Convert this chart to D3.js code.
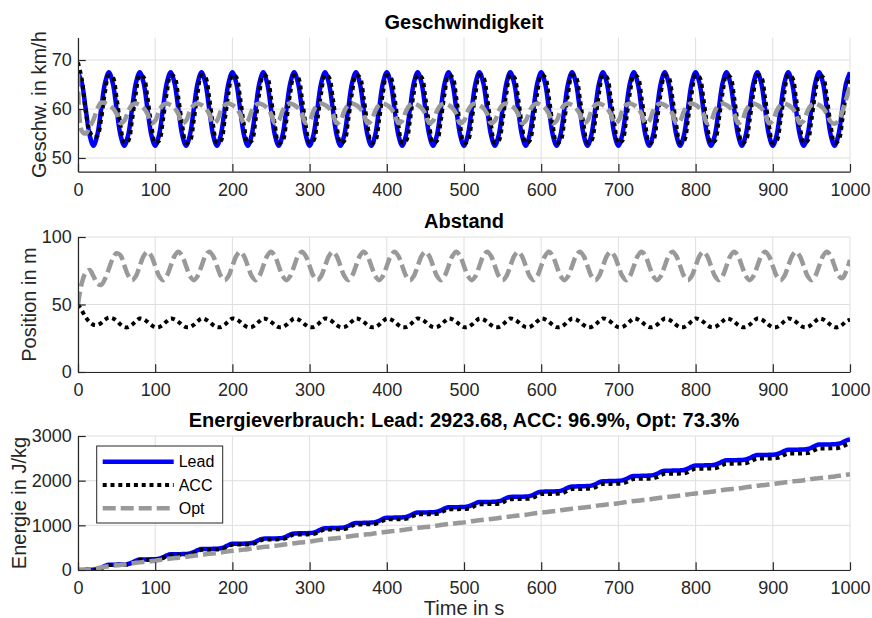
<!DOCTYPE html>
<html>
<head>
<meta charset="utf-8">
<script src="https://cdn.jsdelivr.net/npm/d3@7/dist/d3.min.js"></script>
<style>
  body { margin: 0; background: #fff; }
  svg { font-family: Arial, "Liberation Sans", sans-serif; }
</style>
</head>
<body>
<svg id="chart" width="872" height="618"></svg>
<script>
// Simulation output: lead vehicle, ACC follower and optimised follower
// Sampled every 5 s from 0 to 1000 s (one row = one 40 s period)
const time = d3.range(0, 1001, 5)

// Speed in km/h
const speedLead = [
  67.5, 65.3, 60.0, 54.7, 52.5, 54.7, 60.0, 65.3,
  67.5, 65.3, 60.0, 54.7, 52.5, 54.7, 60.0, 65.3,
  67.5, 65.3, 60.0, 54.7, 52.5, 54.7, 60.0, 65.3,
  67.5, 65.3, 60.0, 54.7, 52.5, 54.7, 60.0, 65.3,
  67.5, 65.3, 60.0, 54.7, 52.5, 54.7, 60.0, 65.3,
  67.5, 65.3, 60.0, 54.7, 52.5, 54.7, 60.0, 65.3,
  67.5, 65.3, 60.0, 54.7, 52.5, 54.7, 60.0, 65.3,
  67.5, 65.3, 60.0, 54.7, 52.5, 54.7, 60.0, 65.3,
  67.5, 65.3, 60.0, 54.7, 52.5, 54.7, 60.0, 65.3,
  67.5, 65.3, 60.0, 54.7, 52.5, 54.7, 60.0, 65.3,
  67.5, 65.3, 60.0, 54.7, 52.5, 54.7, 60.0, 65.3,
  67.5, 65.3, 60.0, 54.7, 52.5, 54.7, 60.0, 65.3,
  67.5, 65.3, 60.0, 54.7, 52.5, 54.7, 60.0, 65.3,
  67.5, 65.3, 60.0, 54.7, 52.5, 54.7, 60.0, 65.3,
  67.5, 65.3, 60.0, 54.7, 52.5, 54.7, 60.0, 65.3,
  67.5, 65.3, 60.0, 54.7, 52.5, 54.7, 60.0, 65.3,
  67.5, 65.3, 60.0, 54.7, 52.5, 54.7, 60.0, 65.3,
  67.5, 65.3, 60.0, 54.7, 52.5, 54.7, 60.0, 65.3,
  67.5, 65.3, 60.0, 54.7, 52.5, 54.7, 60.0, 65.3,
  67.5, 65.3, 60.0, 54.7, 52.5, 54.7, 60.0, 65.3,
  67.5, 65.3, 60.0, 54.7, 52.5, 54.7, 60.0, 65.3,
  67.5, 65.3, 60.0, 54.7, 52.5, 54.7, 60.0, 65.3,
  67.5, 65.3, 60.0, 54.7, 52.5, 54.7, 60.0, 65.3,
  67.5, 65.3, 60.0, 54.7, 52.5, 54.7, 60.0, 65.3,
  67.5, 65.3, 60.0, 54.7, 52.5, 54.7, 60.0, 65.3,
  67.5
]
const speedAcc = [
  69.5, 66.0, 59.5, 55.5, 54.3, 54.5, 58.0, 63.5,
  66.9, 66.5, 62.3, 56.7, 53.1, 53.5, 57.7, 63.3,
  66.9, 66.5, 62.3, 56.7, 53.1, 53.5, 57.7, 63.3,
  66.9, 66.5, 62.3, 56.7, 53.1, 53.5, 57.7, 63.3,
  66.9, 66.5, 62.3, 56.7, 53.1, 53.5, 57.7, 63.3,
  66.9, 66.5, 62.3, 56.7, 53.1, 53.5, 57.7, 63.3,
  66.9, 66.5, 62.3, 56.7, 53.1, 53.5, 57.7, 63.3,
  66.9, 66.5, 62.3, 56.7, 53.1, 53.5, 57.7, 63.3,
  66.9, 66.5, 62.3, 56.7, 53.1, 53.5, 57.7, 63.3,
  66.9, 66.5, 62.3, 56.7, 53.1, 53.5, 57.7, 63.3,
  66.9, 66.5, 62.3, 56.7, 53.1, 53.5, 57.7, 63.3,
  66.9, 66.5, 62.3, 56.7, 53.1, 53.5, 57.7, 63.3,
  66.9, 66.5, 62.3, 56.7, 53.1, 53.5, 57.7, 63.3,
  66.9, 66.5, 62.3, 56.7, 53.1, 53.5, 57.7, 63.3,
  66.9, 66.5, 62.3, 56.7, 53.1, 53.5, 57.7, 63.3,
  66.9, 66.5, 62.3, 56.7, 53.1, 53.5, 57.7, 63.3,
  66.9, 66.5, 62.3, 56.7, 53.1, 53.5, 57.7, 63.3,
  66.9, 66.5, 62.3, 56.7, 53.1, 53.5, 57.7, 63.3,
  66.9, 66.5, 62.3, 56.7, 53.1, 53.5, 57.7, 63.3,
  66.9, 66.5, 62.3, 56.7, 53.1, 53.5, 57.7, 63.3,
  66.9, 66.5, 62.3, 56.7, 53.1, 53.5, 57.7, 63.3,
  66.9, 66.5, 62.3, 56.7, 53.1, 53.5, 57.7, 63.3,
  66.9, 66.5, 62.3, 56.7, 53.1, 53.5, 57.7, 63.3,
  66.9, 66.5, 62.3, 56.7, 53.1, 53.5, 57.7, 63.3,
  66.9, 66.5, 62.3, 56.7, 53.1, 53.5, 57.7, 63.3,
  66.9
]
const speedOpt = [
  67.2, 55.5, 55.0, 56.3, 57.8, 60.0, 61.3, 61.2,
  60.8, 60.2, 59.0, 57.1, 57.6, 59.6, 60.8, 61.1,
  60.8, 60.2, 59.0, 57.1, 57.6, 59.6, 60.8, 61.1,
  60.8, 60.2, 59.0, 57.1, 57.6, 59.6, 60.8, 61.1,
  60.8, 60.2, 59.0, 57.1, 57.6, 59.6, 60.8, 61.1,
  60.8, 60.2, 59.0, 57.1, 57.6, 59.6, 60.8, 61.1,
  60.8, 60.2, 59.0, 57.1, 57.6, 59.6, 60.8, 61.1,
  60.8, 60.2, 59.0, 57.1, 57.6, 59.6, 60.8, 61.1,
  60.8, 60.2, 59.0, 57.1, 57.6, 59.6, 60.8, 61.1,
  60.8, 60.2, 59.0, 57.1, 57.6, 59.6, 60.8, 61.1,
  60.8, 60.2, 59.0, 57.1, 57.6, 59.6, 60.8, 61.1,
  60.8, 60.2, 59.0, 57.1, 57.6, 59.6, 60.8, 61.1,
  60.8, 60.2, 59.0, 57.1, 57.6, 59.6, 60.8, 61.1,
  60.8, 60.2, 59.0, 57.1, 57.6, 59.6, 60.8, 61.1,
  60.8, 60.2, 59.0, 57.1, 57.6, 59.6, 60.8, 61.1,
  60.8, 60.2, 59.0, 57.1, 57.6, 59.6, 60.8, 61.1,
  60.8, 60.2, 59.0, 57.1, 57.6, 59.6, 60.8, 61.1,
  60.8, 60.2, 59.0, 57.1, 57.6, 59.6, 60.8, 61.1,
  60.8, 60.2, 59.0, 57.1, 57.6, 59.6, 60.8, 61.1,
  60.8, 60.2, 59.0, 57.1, 57.6, 59.6, 60.8, 61.1,
  60.8, 60.2, 59.0, 57.1, 57.6, 59.6, 60.8, 61.1,
  60.8, 60.2, 59.0, 57.1, 57.6, 59.6, 60.8, 61.1,
  60.8, 60.2, 59.0, 57.1, 57.6, 59.6, 60.8, 61.1,
  60.8, 60.2, 59.0, 57.1, 57.6, 59.6, 60.8, 61.1,
  60.8, 60.2, 59.0, 57.4, 57.0, 57.6, 59.5, 62.0,
  64.8
]

// Gap to the lead vehicle in m
const distAcc = [
  50.0, 45.5, 40.5, 37.0, 35.0, 34.8, 36.3, 38.8,
  40.3, 39.8, 38.0, 35.2, 33.3, 33.2, 35.0, 37.6,
  39.6, 39.0, 37.2, 34.8, 33.2, 33.3, 35.0, 37.6,
  39.6, 39.0, 37.2, 34.8, 33.2, 33.3, 35.0, 37.6,
  39.6, 39.0, 37.2, 34.8, 33.2, 33.3, 35.0, 37.6,
  39.6, 39.0, 37.2, 34.8, 33.2, 33.3, 35.0, 37.6,
  39.6, 39.0, 37.2, 34.8, 33.2, 33.3, 35.0, 37.6,
  39.6, 39.0, 37.2, 34.8, 33.2, 33.3, 35.0, 37.6,
  39.6, 39.0, 37.2, 34.8, 33.2, 33.3, 35.0, 37.6,
  39.6, 39.0, 37.2, 34.8, 33.2, 33.3, 35.0, 37.6,
  39.6, 39.0, 37.2, 34.8, 33.2, 33.3, 35.0, 37.6,
  39.6, 39.0, 37.2, 34.8, 33.2, 33.3, 35.0, 37.6,
  39.6, 39.0, 37.2, 34.8, 33.2, 33.3, 35.0, 37.6,
  39.6, 39.0, 37.2, 34.8, 33.2, 33.3, 35.0, 37.6,
  39.6, 39.0, 37.2, 34.8, 33.2, 33.3, 35.0, 37.6,
  39.6, 39.0, 37.2, 34.8, 33.2, 33.3, 35.0, 37.6,
  39.6, 39.0, 37.2, 34.8, 33.2, 33.3, 35.0, 37.6,
  39.6, 39.0, 37.2, 34.8, 33.2, 33.3, 35.0, 37.6,
  39.6, 39.0, 37.2, 34.8, 33.2, 33.3, 35.0, 37.6,
  39.6, 39.0, 37.2, 34.8, 33.2, 33.3, 35.0, 37.6,
  39.6, 39.0, 37.2, 34.8, 33.2, 33.3, 35.0, 37.6,
  39.6, 39.0, 37.2, 34.8, 33.2, 33.3, 35.0, 37.6,
  39.6, 39.0, 37.2, 34.8, 33.2, 33.3, 35.0, 37.6,
  39.6, 39.0, 37.2, 34.8, 33.2, 33.3, 35.0, 37.6,
  39.6, 39.0, 37.2, 34.8, 33.2, 33.3, 35.0, 37.6,
  38.8
]
const distOpt = [
  50.0, 66.0, 73.5, 75.5, 71.0, 65.5, 64.5, 69.0,
  76.5, 84.0, 88.0, 86.5, 79.0, 71.5, 68.0, 71.0,
  78.5, 85.9, 89.0, 85.9, 78.5, 71.1, 68.0, 71.1,
  78.5, 85.9, 89.0, 85.9, 78.5, 71.1, 68.0, 71.1,
  78.5, 85.9, 89.0, 85.9, 78.5, 71.1, 68.0, 71.1,
  78.5, 85.9, 89.0, 85.9, 78.5, 71.1, 68.0, 71.1,
  78.5, 85.9, 89.0, 85.9, 78.5, 71.1, 68.0, 71.1,
  78.5, 85.9, 89.0, 85.9, 78.5, 71.1, 68.0, 71.1,
  78.5, 85.9, 89.0, 85.9, 78.5, 71.1, 68.0, 71.1,
  78.5, 85.9, 89.0, 85.9, 78.5, 71.1, 68.0, 71.1,
  78.5, 85.9, 89.0, 85.9, 78.5, 71.1, 68.0, 71.1,
  78.5, 85.9, 89.0, 85.9, 78.5, 71.1, 68.0, 71.1,
  78.5, 85.9, 89.0, 85.9, 78.5, 71.1, 68.0, 71.1,
  78.5, 85.9, 89.0, 85.9, 78.5, 71.1, 68.0, 71.1,
  78.5, 85.9, 89.0, 85.9, 78.5, 71.1, 68.0, 71.1,
  78.5, 85.9, 89.0, 85.9, 78.5, 71.1, 68.0, 71.1,
  78.5, 85.9, 89.0, 85.9, 78.5, 71.1, 68.0, 71.1,
  78.5, 85.9, 89.0, 85.9, 78.5, 71.1, 68.0, 71.1,
  78.5, 85.9, 89.0, 85.9, 78.5, 71.1, 68.0, 71.1,
  78.5, 85.9, 89.0, 85.9, 78.5, 71.1, 68.0, 71.1,
  78.5, 85.9, 89.0, 85.9, 78.5, 71.1, 68.0, 71.1,
  78.5, 85.9, 89.0, 85.9, 78.5, 71.1, 68.0, 71.1,
  78.5, 85.9, 89.0, 85.9, 78.5, 71.1, 68.0, 71.1,
  78.5, 85.9, 89.0, 85.9, 78.5, 71.1, 68.0, 71.1,
  78.5, 85.9, 89.0, 85.9, 78.5, 71.5, 69.5, 74.5,
  83.0
]

// Cumulative energy in J/kg
const energyLead = [
  0, 1, 3, 5, 8, 18, 48, 92,
  117, 118, 120, 122, 125, 135, 165, 209,
  234, 235, 237, 239, 242, 252, 282, 326,
  351, 352, 354, 356, 359, 369, 399, 443,
  468, 469, 471, 473, 476, 486, 516, 560,
  585, 586, 588, 590, 593, 603, 633, 677,
  702, 703, 705, 707, 710, 720, 750, 794,
  819, 820, 822, 824, 827, 837, 867, 911,
  936, 937, 939, 941, 944, 954, 984, 1028,
  1053, 1054, 1056, 1058, 1061, 1071, 1101, 1145,
  1170, 1171, 1173, 1175, 1178, 1188, 1218, 1262,
  1286, 1287, 1289, 1291, 1294, 1304, 1334, 1378,
  1403, 1404, 1406, 1408, 1411, 1421, 1451, 1495,
  1520, 1521, 1523, 1525, 1528, 1538, 1568, 1612,
  1637, 1638, 1640, 1642, 1645, 1655, 1685, 1729,
  1754, 1755, 1757, 1759, 1762, 1772, 1802, 1846,
  1871, 1872, 1874, 1876, 1879, 1889, 1919, 1963,
  1988, 1989, 1991, 1993, 1996, 2006, 2036, 2080,
  2105, 2106, 2108, 2110, 2113, 2123, 2153, 2197,
  2222, 2223, 2225, 2227, 2230, 2240, 2270, 2314,
  2339, 2340, 2342, 2344, 2347, 2357, 2387, 2431,
  2456, 2457, 2459, 2461, 2464, 2474, 2504, 2548,
  2573, 2574, 2576, 2578, 2581, 2591, 2621, 2665,
  2690, 2691, 2693, 2695, 2698, 2708, 2738, 2782,
  2807, 2808, 2810, 2812, 2815, 2825, 2855, 2899,
  2924
]
const energyAcc = [
  0, 1, 2, 4, 6, 12, 38, 84,
  113, 114, 115, 117, 119, 125, 151, 197,
  227, 228, 229, 231, 233, 239, 265, 311,
  340, 341, 342, 344, 346, 352, 378, 424,
  453, 454, 455, 457, 459, 465, 491, 537,
  567, 568, 569, 571, 573, 579, 605, 651,
  680, 681, 682, 684, 686, 692, 718, 764,
  793, 794, 795, 797, 799, 805, 831, 877,
  906, 907, 908, 910, 912, 918, 944, 990,
  1020, 1021, 1022, 1024, 1026, 1032, 1058, 1104,
  1133, 1134, 1135, 1137, 1139, 1145, 1171, 1217,
  1246, 1247, 1248, 1250, 1252, 1258, 1284, 1330,
  1360, 1361, 1362, 1364, 1366, 1372, 1398, 1444,
  1473, 1474, 1475, 1477, 1479, 1485, 1511, 1557,
  1586, 1587, 1588, 1590, 1592, 1598, 1624, 1670,
  1700, 1701, 1702, 1704, 1706, 1712, 1738, 1784,
  1813, 1814, 1815, 1817, 1819, 1825, 1851, 1897,
  1926, 1927, 1928, 1930, 1932, 1938, 1964, 2010,
  2039, 2040, 2041, 2043, 2045, 2051, 2077, 2123,
  2153, 2154, 2155, 2157, 2159, 2165, 2191, 2237,
  2266, 2267, 2268, 2270, 2272, 2278, 2304, 2350,
  2379, 2380, 2381, 2383, 2385, 2391, 2417, 2463,
  2493, 2494, 2495, 2497, 2499, 2505, 2531, 2577,
  2606, 2607, 2608, 2610, 2612, 2618, 2644, 2690,
  2719, 2720, 2721, 2723, 2725, 2731, 2757, 2803,
  2833
]
const energyOpt = [
  0, 0, 2, 10, 25, 42, 58, 72,
  86, 95, 104, 113, 123, 136, 149, 161,
  171, 180, 189, 198, 208, 221, 234, 246,
  257, 266, 275, 284, 294, 307, 320, 332,
  343, 352, 361, 370, 380, 393, 406, 418,
  429, 438, 447, 456, 466, 479, 492, 504,
  514, 523, 532, 541, 551, 564, 577, 589,
  600, 609, 618, 627, 637, 650, 663, 675,
  686, 695, 704, 713, 723, 736, 749, 761,
  771, 780, 789, 798, 808, 821, 834, 846,
  857, 866, 875, 884, 894, 907, 920, 932,
  943, 952, 961, 970, 980, 993, 1006, 1018,
  1029, 1038, 1047, 1056, 1066, 1079, 1092, 1104,
  1114, 1123, 1132, 1141, 1151, 1164, 1177, 1189,
  1200, 1209, 1218, 1227, 1237, 1250, 1263, 1275,
  1286, 1295, 1304, 1313, 1323, 1336, 1349, 1361,
  1372, 1381, 1390, 1399, 1409, 1422, 1435, 1447,
  1457, 1466, 1475, 1484, 1494, 1507, 1520, 1532,
  1543, 1552, 1561, 1570, 1580, 1593, 1606, 1618,
  1629, 1638, 1647, 1656, 1666, 1679, 1692, 1704,
  1714, 1723, 1732, 1741, 1751, 1764, 1777, 1789,
  1800, 1809, 1818, 1827, 1837, 1850, 1863, 1875,
  1886, 1895, 1904, 1913, 1923, 1936, 1949, 1961,
  1972, 1981, 1990, 1999, 2009, 2022, 2035, 2047,
  2057, 2066, 2075, 2084, 2094, 2107, 2120, 2132,
  2143
]

// Axis ticks
const xTicks = [0, 100, 200, 300, 400, 500, 600, 700, 800, 900, 1000]
const speedTicks = [50, 60, 70]
const distTicks = [0, 50, 100]
const energyTicks = [0, 1000, 2000, 3000]

const seriesNames = ['Lead', 'ACC', 'Opt']
const energyTitle = 'Energieverbrauch: Lead: 2923.68, ACC: 96.9%, Opt: 73.3%'

// Line look of each series (MATLAB-ish)
const lineStyle = {
  Lead: { color: '#0000ff', width: 4.5, dash: null },
  ACC:  { color: '#000000', width: 4, dash: '4,3.8' },
  Opt:  { color: '#999999', width: 4.5, dash: '13,5' }
}

const svg = d3.select('#chart')
const axisColor = '#262626'
const left = 78, right = 850
const x = d3.scaleLinear().domain([0, 1000]).range([left, right])
const fmt = d3.format('d')

// One entry per subplot
const panels = [
  { title: 'Geschwindigkeit', ylabel: 'Geschw. in km/h', top: 37.5, bottom: 171.7,
    domain: [47.2, 74.6], ticks: speedTicks, values: [speedLead, speedAcc, speedOpt],
    curve: d3.curveCatmullRom },
  { title: 'Abstand', ylabel: 'Position in m', top: 237, bottom: 372,
    domain: [0, 100], ticks: distTicks, values: [null, distAcc, distOpt],
    curve: d3.curveCatmullRom },
  { title: energyTitle, ylabel: 'Energie in J/kg', top: 436, bottom: 570,
    domain: [0, 3000], ticks: energyTicks, values: [energyLead, energyAcc, energyOpt],
    curve: d3.curveMonotoneX, legend: true }
]

const drawPanel = (p, i) => {
  const y = d3.scaleLinear().domain(p.domain).range([p.bottom, p.top])
  const g = svg.append('g')

  // clip lines to the axes box
  g.append('clipPath').attr('id', 'clip' + i)
    .append('rect')
    .attr('x', left).attr('y', p.top)
    .attr('width', right - left).attr('height', p.bottom - p.top)

  // grid
  const grid = g.append('g').attr('stroke', '#dfdfdf').attr('stroke-width', 1)
  grid.selectAll('.vg').data(xTicks).enter().append('line')
    .attr('x1', d => x(d)).attr('x2', d => x(d))
    .attr('y1', p.top).attr('y2', p.bottom)
  grid.selectAll('.hg').data(p.ticks).enter().append('line')
    .attr('x1', left).attr('x2', right)
    .attr('y1', d => y(d)).attr('y2', d => y(d))

  // data lines, Opt drawn last so it sits on top
  const line = d3.line()
    .x((d, j) => x(time[j]))
    .y(d => y(d))
    .curve(p.curve)
  const lines = g.append('g').attr('clip-path', `url(#clip${i})`)
  seriesNames.forEach((name, k) => {
    if (!p.values[k]) return
    const s = lineStyle[name]
    lines.append('path')
      .datum(p.values[k])
      .attr('d', line)
      .attr('fill', 'none')
      .attr('stroke', s.color)
      .attr('stroke-width', s.width)
      .attr('stroke-dasharray', s.dash)
      .attr('stroke-linejoin', 'round')
  })

  // axes with inward ticks
  const xAxis = g.append('g')
    .attr('transform', `translate(0,${p.bottom})`)
    .call(d3.axisBottom(x).tickValues(xTicks).tickFormat(fmt)
      .tickSizeInner(-7.7).tickSizeOuter(0).tickPadding(11.5))
  const yAxis = g.append('g')
    .attr('transform', `translate(${left},0)`)
    .call(d3.axisLeft(y).tickValues(p.ticks).tickFormat(fmt)
      .tickSizeInner(-7.7).tickSizeOuter(0).tickPadding(6.3))
  ;[xAxis, yAxis].forEach(a => {
    a.attr('font-size', 18).attr('font-family', 'Arial, "Liberation Sans", sans-serif')
    a.selectAll('path, line').attr('stroke', axisColor).attr('stroke-width', 1.2)
    a.selectAll('text').attr('fill', axisColor)
  })

  // title
  g.append('text')
    .attr('x', (left + right) / 2).attr('y', p.top - 8.7)
    .attr('text-anchor', 'middle')
    .attr('font-size', 20).attr('font-weight', 'bold')
    .attr('fill', '#000')
    .text(p.title)

  // y label, placed left of the widest tick label (bbox is in the axis' own coords)
  let minX = 0
  yAxis.selectAll('.tick text').each(function () {
    minX = Math.min(minX, this.getBBox().x)
  })
  const yl = left + minX - 13
  g.append('text')
    .attr('transform', `translate(${yl},${(p.top + p.bottom) / 2}) rotate(-90)`)
    .attr('text-anchor', 'middle')
    .attr('dominant-baseline', 'central')
    .attr('font-size', 20)
    .attr('fill', axisColor)
    .text(p.ylabel)

  if (p.legend) drawLegend(g, p)
}

// Legend box in the upper left of the energy plot
const drawLegend = (g, p) => {
  const lx = left + 18.7, ly = p.top + 10, rowH = 23.3
  const leg = g.append('g').attr('transform', `translate(${lx},${ly})`)
  leg.append('rect')
    .attr('width', 126).attr('height', 77)
    .attr('fill', '#fff').attr('stroke', axisColor).attr('stroke-width', 1)
  seriesNames.forEach((name, k) => {
    const s = lineStyle[name]
    const cy = 15.7 + k * rowH
    leg.append('line')
      .attr('x1', 6).attr('x2', 77).attr('y1', cy).attr('y2', cy)
      .attr('stroke', s.color).attr('stroke-width', s.width)
      .attr('stroke-dasharray', s.dash)
    leg.append('text')
      .attr('x', 82).attr('y', cy)
      .attr('dominant-baseline', 'central')
      .attr('font-size', 16).attr('fill', '#000')
      .text(name)
  })
}

panels.forEach(drawPanel)

// shared x label under the last plot
svg.append('text')
  .attr('x', (left + right) / 2).attr('y', 615)
  .attr('text-anchor', 'middle')
  .attr('font-size', 20).attr('fill', axisColor)
  .text('Time in s')
</script>
</body>
</html>
